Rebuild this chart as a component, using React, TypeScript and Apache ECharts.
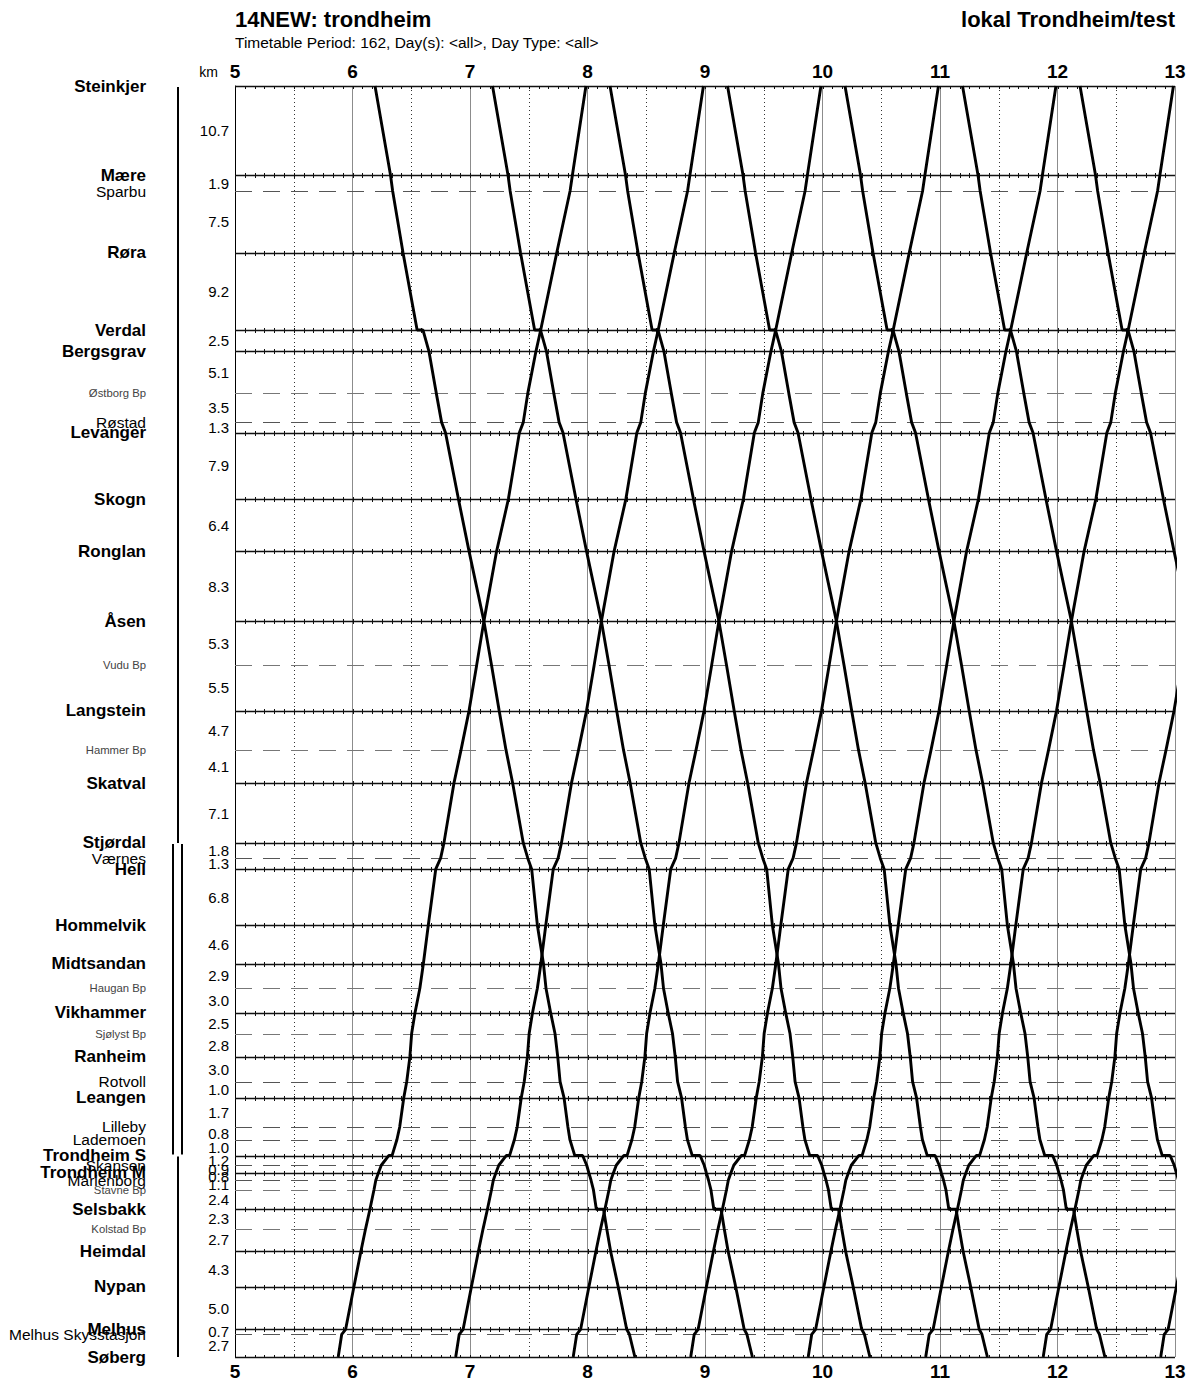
import React, { useEffect, useRef } from 'react';
import * as echarts from 'echarts';

const FONT = '"Liberation Sans", Arial, Helvetica, sans-serif';

const titleLeft = '14NEW: trondheim';
const titleRight = 'lokal Trondheim/test';
const subtitle = 'Timetable Period: 162, Day(s): <all>, Day Type: <all>';
const distanceUnit = 'km';

// hour tick labels on the time axis
const hourLabels = ['5', '6', '7', '8', '9', '10', '11', '12', '13'];

// stations, top (north) to bottom (south)
const stationNames = [
  'Steinkjer', 'Mære', 'Sparbu', 'Røra', 'Verdal', 'Bergsgrav', 'Østborg Bp', 'Røstad', 'Levanger',
  'Skogn', 'Ronglan', 'Åsen', 'Vudu Bp', 'Langstein', 'Hammer Bp', 'Skatval', 'Stjørdal', 'Værnes',
  'Hell', 'Hommelvik', 'Midtsandan', 'Haugan Bp', 'Vikhammer', 'Sjølyst Bp', 'Ranheim', 'Rotvoll',
  'Leangen', 'Lilleby', 'Lademoen', 'Trondheim S', 'Skansen', 'Trondheim M', 'Marienborg', 'Stavne Bp',
  'Selsbakk', 'Kolstad Bp', 'Heimdal', 'Nypan', 'Melhus', 'Melhus Skysstasjon', 'Søberg',
];
// 0 = station (bold, solid line), 1 = stop (normal, dashed), 2 = halt "Bp" (small grey, dashed)
const stationKinds = [
  0, 0, 1, 0, 0, 0, 2, 1, 0,
  0, 0, 0, 2, 0, 2, 0, 0, 1,
  0, 0, 0, 2, 0, 2, 0, 1,
  0, 1, 1, 0, 1, 0, 1, 2,
  0, 2, 0, 0, 0, 1, 0,
];
// vertical position of each station on the diagram
const stationPos = [
  0, 89, 105, 166.7, 244, 265, 307.3, 336.3, 346.7,
  413, 465, 535, 579, 624.7, 664, 697, 756.7, 772,
  783, 839, 877.3, 902, 926.7, 947.3, 970.7, 995.3,
  1011.3, 1040.7, 1053.3, 1069.3, 1079, 1086.7, 1094, 1103.3,
  1123, 1142.3, 1165, 1200.7, 1243, 1248, 1270.7,
];
// km between consecutive stations
const segmentKm = [
  '10.7', '1.9', '7.5', '9.2', '2.5', '5.1', '3.5', '1.3', '7.9', '6.4',
  '8.3', '5.3', '5.5', '4.7', '4.1', '7.1', '1.8', '1.3', '6.8', '4.6',
  '2.9', '3.0', '2.5', '2.8', '3.0', '1.0', '1.7', '0.8', '1.0', '1.2',
  '0.9', '0.8', '1.1', '2.4', '2.3', '2.7', '4.3', '5.0', '0.7', '2.7',
];
// single / double track sections
const trackSections: [string, string, number][] = [
  ['Steinkjer', 'Stjørdal', 1],
  ['Stjørdal', 'Trondheim S', 2],
  ['Trondheim S', 'Søberg', 1],
];

// southbound running times (minutes after Steinkjer departure)
const southRun: [string, number][] = [
  ['Steinkjer', 0], ['Mære', 7.9], ['Sparbu', 9.0], ['Røra', 14.3], ['Verdal', 21.5], ['Verdal', 24.5],
  ['Bergsgrav', 27.5], ['Østborg Bp', 31.3], ['Røstad', 34.0], ['Levanger', 36.0], ['Skogn', 42.6],
  ['Ronglan', 48.0], ['Åsen', 55.6], ['Vudu Bp', 59.5], ['Langstein', 63.4], ['Hammer Bp', 66.9],
  ['Skatval', 70.3], ['Stjørdal', 75.7], ['Værnes', 78.0], ['Hell', 80.0], ['Hommelvik', 82.9],
  ['Midtsandan', 86.0], ['Haugan Bp', 87.3], ['Vikhammer', 89.7], ['Sjølyst Bp', 91.9], ['Ranheim', 93.3],
  ['Rotvoll', 94.5], ['Leangen', 96.5], ['Lilleby', 98.5], ['Lademoen', 99.5], ['Trondheim S', 102.0],
  ['Trondheim S', 106.0], ['Skansen', 108.1], ['Trondheim M', 109.2], ['Marienborg', 110.3],
  ['Stavne Bp', 111.5], ['Selsbakk', 113.0], ['Selsbakk', 116.7], ['Kolstad Bp', 118.3], ['Heimdal', 120.3],
  ['Nypan', 124.2], ['Melhus', 128.5], ['Melhus Skysstasjon', 129.9], ['Søberg', 132.7],
];
// northbound running times (minutes after Søberg departure)
const northRun: [string, number][] = [
  ['Søberg', 0], ['Melhus Skysstasjon', 1.8], ['Melhus', 3.8], ['Nypan', 8.0], ['Heimdal', 11.6],
  ['Kolstad Bp', 14.0], ['Selsbakk', 16.2], ['Stavne Bp', 18.3], ['Marienborg', 19.2], ['Trondheim M', 20.5],
  ['Skansen', 22.0], ['Trondheim S', 25.8], ['Trondheim S', 27.5], ['Lademoen', 30.0], ['Lilleby', 31.4],
  ['Leangen', 33.5], ['Rotvoll', 35.0], ['Ranheim', 36.6], ['Sjølyst Bp', 37.5], ['Vikhammer', 39.2],
  ['Haugan Bp', 41.7], ['Midtsandan', 43.5], ['Hommelvik', 46.0], ['Hell', 49.8], ['Værnes', 52.3],
  ['Stjørdal', 54.0], ['Skatval', 59.1], ['Hammer Bp', 62.7], ['Langstein', 66.8], ['Vudu Bp', 70.7],
  ['Åsen', 74.4], ['Ronglan', 80.9], ['Skogn', 86.9], ['Levanger', 92.5], ['Røstad', 94.5],
  ['Østborg Bp', 96.8], ['Bergsgrav', 101.0], ['Verdal', 103.4], ['Røra', 111.6], ['Sparbu', 118.4],
  ['Mære', 119.6], ['Steinkjer', 126.5],
];
const southDepartures = ['06:11:30', '07:11:30', '08:11:30', '09:11:30', '10:11:30', '11:11:30', '12:11:30'];
const northDepartures = ['05:52:42', '06:52:42', '07:52:42', '08:52:42', '09:52:42', '10:52:42', '11:52:42', '12:52:42'];

const parseT = (s: string) => {
  const [h, m, sec] = s.split(':').map(Number);
  return h + m / 60 + (sec || 0) / 3600;
};
const idxOf = (n: string) => stationNames.indexOf(n);

export default function App() {
  const ref = useRef<HTMLDivElement>(null);
  useEffect(() => {
    document.body.style.margin = '0';
    if (!ref.current) return;
    const chart = echarts.init(ref.current, null, { renderer: 'svg' });
    const T0 = Number(hourLabels[0]);
    const T1 = Number(hourLabels[hourLabels.length - 1]);
    const last = stationNames.length - 1;

    const stationLines = {
      type: 'custom',
      name: 'stationLines',
      coordinateSystem: 'cartesian2d',
      silent: true,
      z: 2,
      data: stationPos.map((p, i) => [T0, p, i]),
      renderItem: (params: any, api: any) => {
        const pos = api.value(1);
        const i = api.value(2);
        const kind = stationKinds[i];
        const a = api.coord([T0, pos]);
        const b = api.coord([T1, pos]);
        const y = Math.round(a[1]) + 0.5;
        const children: any[] = [];
        if (kind === 0) {
          children.push({ type: 'line', shape: { x1: a[0], y1: y, x2: b[0], y2: y }, style: { stroke: '#111', lineWidth: 1.3 } });
          const up = i === 0 ? 0 : 2.5;
          const down = i === last ? 0 : 2.5;
          for (let m = 5; m < (T1 - T0) * 60; m += 5) {
            const x = Math.round(api.coord([T0 + m / 60, pos])[0]) + 0.5;
            children.push({ type: 'line', shape: { x1: x, y1: y - up, x2: x, y2: y + down }, style: { stroke: '#111', lineWidth: 1 } });
          }
        } else {
          children.push({
            type: 'line', shape: { x1: a[0], y1: y, x2: b[0], y2: y },
            style: { stroke: kind === 1 ? '#555' : '#777', lineWidth: 1, lineDash: [17, 11] },
          });
        }
        return { type: 'group', children };
      },
    };

    const stationLabels = {
      type: 'custom',
      name: 'stationLabels',
      coordinateSystem: 'cartesian2d',
      silent: true,
      z: 3,
      data: stationPos.map((p, i) => [T0, p, i]),
      renderItem: (params: any, api: any) => {
        const pos = api.value(1);
        const i = api.value(2);
        const kind = stationKinds[i];
        const a = api.coord([T0, pos]);
        const st = kind === 0
          ? { fontSize: 17, fontWeight: 'bold', fill: '#000' }
          : kind === 1
            ? { fontSize: 15.5, fontWeight: 'normal', fill: '#000' }
            : { fontSize: 11.3, fontWeight: 'normal', fill: '#444' };
        return {
          type: 'text', x: a[0] - 89, y: a[1],
          style: { text: stationNames[i], align: 'right', verticalAlign: 'middle', fontFamily: FONT, ...st },
        };
      },
    };

    const distanceLabels = {
      type: 'custom',
      name: 'distanceLabels',
      coordinateSystem: 'cartesian2d',
      silent: true,
      z: 3,
      data: segmentKm.map((k, i) => [T0, (stationPos[i] + stationPos[i + 1]) / 2, i]),
      renderItem: (params: any, api: any) => {
        const a = api.coord([T0, api.value(1)]);
        return {
          type: 'text', x: a[0] - 6, y: a[1],
          style: { text: segmentKm[api.value(2)], align: 'right', verticalAlign: 'middle', fontFamily: FONT, fontSize: 15, fill: '#000' },
        };
      },
    };

    const tracks = {
      type: 'custom',
      name: 'tracks',
      coordinateSystem: 'cartesian2d',
      silent: true,
      z: 3,
      data: trackSections.map(([f, t, n]) => [T0, stationPos[idxOf(f)], stationPos[idxOf(t)], n]),
      renderItem: (params: any, api: any) => {
        const a = api.coord([T0, api.value(1)]);
        const b = api.coord([T0, api.value(2)]);
        const n = api.value(3);
        const xs = n === 1 ? [a[0] - 57] : [a[0] - 62, a[0] - 53];
        return {
          type: 'group',
          children: xs.map((x) => ({
            type: 'line', shape: { x1: x, y1: a[1] + 1, x2: x, y2: b[1] - (n === 2 ? 1 : 0) },
            style: { stroke: '#000', lineWidth: 2 },
          })),
        };
      },
    };

    const trainStyle = {
      type: 'line', symbol: 'none', showSymbol: false, silent: true, z: 10, clip: true,
      lineStyle: { color: '#000', width: 2.9 },
    };
    const trains = [
      ...southDepartures.map((d, k) => ({
        ...trainStyle, name: 'S' + (k + 1),
        data: southRun.map(([s, m]) => [parseT(d) + m / 60, stationPos[idxOf(s)]]),
      })),
      ...northDepartures.map((d, k) => ({
        ...trainStyle, name: 'N' + (k + 1),
        data: northRun.map(([s, m]) => [parseT(d) + m / 60, stationPos[idxOf(s)]]),
      })),
    ];

    const axisLabel = { fontFamily: FONT, fontSize: 19, fontWeight: 'bold', color: '#000', margin: 5, showMinLabel: true, showMaxLabel: true };

    chart.setOption({
      animation: false,
      grid: { left: 235, right: 25, top: 86, bottom: 37, containLabel: false },
      xAxis: [
        {
          type: 'value', position: 'top', min: T0, max: T1, interval: 1,
          axisLine: { show: false, onZero: false }, axisTick: { show: false },
          axisLabel,
          splitLine: { show: true, lineStyle: { color: '#8c8c8c', width: 1 } },
          minorTick: { show: false, splitNumber: 2 },
          minorSplitLine: { show: true, lineStyle: { color: '#333', width: 1, type: [1, 3] } },
        },
        {
          type: 'value', position: 'bottom', min: T0, max: T1, interval: 1,
          axisLine: { show: false, onZero: false }, axisTick: { show: false },
          axisLabel, splitLine: { show: false },
        },
      ],
      yAxis: {
        type: 'value', inverse: true, min: 0, max: stationPos[last],
        axisLine: { show: true, lineStyle: { color: '#000', width: 1 } },
        axisTick: { show: false }, axisLabel: { show: false }, splitLine: { show: false },
      },
      graphic: [
        { type: 'text', x: 235, y: 19, style: { text: titleLeft, fontFamily: FONT, fontSize: 22, fontWeight: 'bold', fill: '#000', align: 'left', verticalAlign: 'middle' } },
        { type: 'text', x: 1175, y: 19, style: { text: titleRight, fontFamily: FONT, fontSize: 22, fontWeight: 'bold', fill: '#000', align: 'right', verticalAlign: 'middle' } },
        { type: 'text', x: 235, y: 42, style: { text: subtitle, fontFamily: FONT, fontSize: 15.5, fill: '#000', align: 'left', verticalAlign: 'middle' } },
        { type: 'text', x: 218, y: 72, style: { text: distanceUnit, fontFamily: FONT, fontSize: 14, fill: '#000', align: 'right', verticalAlign: 'middle' } },
      ],
      series: [stationLines, tracks, stationLabels, distanceLabels, ...trains],
    });
    return () => chart.dispose();
  }, []);
  return <div ref={ref} style={{ width: 1200, height: 1394 }} />;
}
